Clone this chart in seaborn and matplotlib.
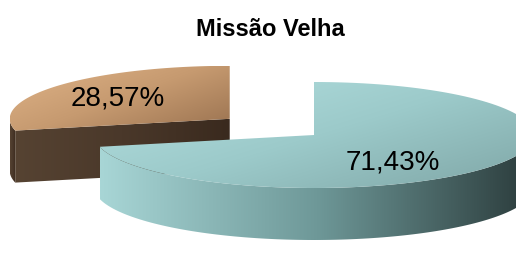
import numpy as np
import matplotlib
matplotlib.use('Agg')
import matplotlib.pyplot as plt
from matplotlib.colors import to_rgb
from matplotlib.patches import Polygon
import seaborn as sns

sns.set_theme(style='white')
plt.rcParams['font.family'] = ['Liberation Sans', 'DejaVu Sans']

# data
title = 'Missão Velha'
shares = [71.43, 28.57]
share_labels = ['71,43%', '28,57%']

# styles: top face gradient, side gradient (left -> right)
top_colors = [['#b4e0e0', '#9ccaca', '#7fa6a6'], ['#e0b488', '#c69a70', '#9a7250']]
side_colors = [['#a8d6d6', '#6e9898', '#2a3a3a'], ['#564332', '#4a382a', '#3a2a1e']]
explode = [0.0, 0.49]
label_offsets = [(0.36, -0.51), (-0.51, 0.38)]

# layout (pixels)
cx, cy = 314, 135
rx, ry = 220, 53
depth = 52

fig = plt.figure(figsize=(5.16, 2.54), dpi=100)
ax = fig.add_axes([0, 0, 1, 1])


def arc(a, b, ox, oy, dz=0, n=120):
    t = np.radians(np.linspace(a, b, n))
    return np.column_stack([ox + rx * np.sin(t), oy - ry * np.cos(t) + dz])


def grad_fill(xy, colors, direction=(1.0, 0.0), zorder=1):
    poly = Polygon(xy, closed=True, facecolor='none', edgecolor='none')
    ax.add_patch(poly)
    x0, x1 = xy[:, 0].min(), xy[:, 0].max()
    y0, y1 = xy[:, 1].min(), xy[:, 1].max()
    gx, gy = np.meshgrid(np.linspace(0, 1, 300), np.linspace(0, 1, 150))
    g = gx * direction[0] + gy * direction[1]
    g = (g - g.min()) / (g.max() - g.min())
    stops = np.linspace(0, 1, len(colors))
    cols = np.array([to_rgb(c) for c in colors])
    img = np.stack([np.interp(g, stops, cols[:, k]) for k in range(3)], axis=-1)
    im = ax.imshow(img, extent=(x0, x1, y1, y0), origin='upper',
                   interpolation='bilinear', zorder=zorder)
    im.set_clip_path(poly)


# slice angles, clockwise from 12 o'clock
total = sum(shares)
bounds = np.concatenate([[0], np.cumsum(shares) / total * 360])
slices = []
for i, v in enumerate(shares):
    a0, a1 = bounds[i], bounds[i + 1]
    mid = np.radians((a0 + a1) / 2)
    ox = cx + explode[i] * rx * np.sin(mid)
    oy = cy - explode[i] * ry * np.cos(mid)
    slices.append((oy, i, a0, a1, ox))

# draw back slices first
z = 1
for oy, i, a0, a1, ox in sorted(slices):
    # outer wall (front half only)
    lo, hi = max(a0, 90), min(a1, 270)
    if hi > lo:
        top = arc(lo, hi, ox, oy)
        bot = arc(hi, lo, ox, oy, depth)
        grad_fill(np.vstack([top, bot]), side_colors[i], zorder=z)
        z += 1
    # cut faces facing the viewer
    for ang, vis in [(a0, np.sin(np.radians(a0)) < -1e-6), (a1, np.sin(np.radians(a1)) > 1e-6)]:
        if vis:
            e = arc(ang, ang, ox, oy, n=1)[0]
            face = np.array([[ox, oy], e, e + [0, depth], [ox, oy + depth]])
            grad_fill(face, side_colors[i], zorder=z)
            z += 1
    # top face
    topface = np.vstack([[ox, oy], arc(a0, a1, ox, oy)])
    grad_fill(topface, top_colors[i], direction=(1.0, 0.8), zorder=z)
    z += 1
    dx, dy = label_offsets[i]
    ax.text(ox + dx * rx, oy - dy * ry, share_labels[i], fontsize=20,
            ha='center', va='center', color='black', zorder=50)

ax.text(270, 30, title, fontsize=17, fontweight='bold', color='black',
        ha='center', va='center')

ax.set_aspect('auto')
ax.set_xlim(0, 516)
ax.set_ylim(254, 0)
ax.axis('off')

fig.savefig('out.png', dpi=100)
